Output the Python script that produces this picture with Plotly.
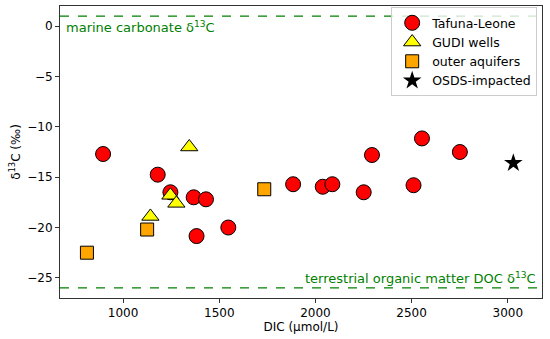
import plotly.graph_objects as go

# Data
tl_dic = [896, 1180, 1246, 1367, 1431, 1382, 1547, 1884, 2038, 2088, 2251, 2510, 2294, 2554, 2751]
tl_d13c = [-12.7, -14.75, -16.5, -17.0, -17.2, -20.85, -20.0, -15.7, -15.95, -15.7, -16.5, -15.8, -12.8, -11.15, -12.5]
gudi_dic = [1344, 1142, 1246, 1277]
gudi_d13c = [-12.0, -18.9, -16.8, -17.6]
outer_dic = [812, 1125, 1734]
outer_d13c = [-22.5, -20.2, -16.2]
osds_dic = [3029]
osds_d13c = [-13.6]
marine_ref = 1.0
terrestrial_ref = -26.0

font = "DejaVu Sans"
fig = go.Figure()
fig.add_trace(go.Scatter(x=tl_dic, y=tl_d13c, mode="markers", name="Tafuna-Leone",
                         marker=dict(symbol="circle", size=15, color="red", line=dict(color="black", width=1))))
fig.add_trace(go.Scatter(x=gudi_dic, y=gudi_d13c, mode="markers", name="GUDI wells",
                         marker=dict(symbol="triangle-up", size=15, color="yellow", line=dict(color="black", width=1))))
fig.add_trace(go.Scatter(x=outer_dic, y=outer_d13c, mode="markers", name="outer aquifers",
                         marker=dict(symbol="square", size=13, color="orange", line=dict(color="black", width=1))))
fig.add_trace(go.Scatter(x=osds_dic, y=osds_d13c, mode="markers", name="OSDS-impacted",
                         marker=dict(symbol="star", size=14, color="black", line=dict(color="black", width=0))))

fig.add_hline(y=marine_ref, line=dict(color="green", dash="dash", width=1.3))
fig.add_hline(y=terrestrial_ref, line=dict(color="green", dash="dash", width=1.3))

fig.add_annotation(x=0.008, y=marine_ref, xref="paper", yref="y", text="marine carbonate δ<sup>13</sup>C",
                   showarrow=False, xanchor="left", yanchor="top", yshift=-1,
                   font=dict(family=font, size=13, color="green"))
fig.add_annotation(x=0.992, y=terrestrial_ref, xref="paper", yref="y", text="terrestrial organic matter DOC δ<sup>13</sup>C",
                   showarrow=False, xanchor="right", yanchor="bottom", yshift=0,
                   font=dict(family=font, size=13, color="green"))

axis_common = dict(showline=True, linecolor="#333", linewidth=1, mirror=True, ticks="outside",
                   ticklen=4, tickcolor="#333", showgrid=False, zeroline=False, automargin=False,
                   tickfont=dict(family=font, size=12, color="black"))
fig.update_xaxes(range=[672, 3178], tickvals=[1000, 1500, 2000, 2500, 3000],
                 title=dict(text="DIC (μmol/L)", font=dict(family=font, size=12, color="black"), standoff=2),
                 **axis_common)
fig.update_yaxes(range=[-27, 2], tickvals=[0, -5, -10, -15, -20, -25],
                 ticktext=["0", "−5", "−10", "−15", "−20", "−25"],
                 title=dict(text="δ<sup>13</sup>C (‰)", font=dict(family=font, size=12, color="black"), standoff=4),
                 **axis_common)

fig.update_layout(width=550, height=339, margin=dict(l=60, r=8, t=6, b=41),
                  plot_bgcolor="white", paper_bgcolor="white",
                  font=dict(family=font, size=12, color="black"),
                  legend=dict(x=0.99, y=0.996, xanchor="right", yanchor="top",
                              bgcolor="rgba(255,255,255,0.8)", bordercolor="#ccc", borderwidth=1,
                              font=dict(family=font, size=12.5), itemwidth=30, tracegroupgap=0))

fig.write_html("out.html", config={"displayModeBar": False},
               post_script="document.body.style.margin='0';document.body.style.overflow='hidden';")
